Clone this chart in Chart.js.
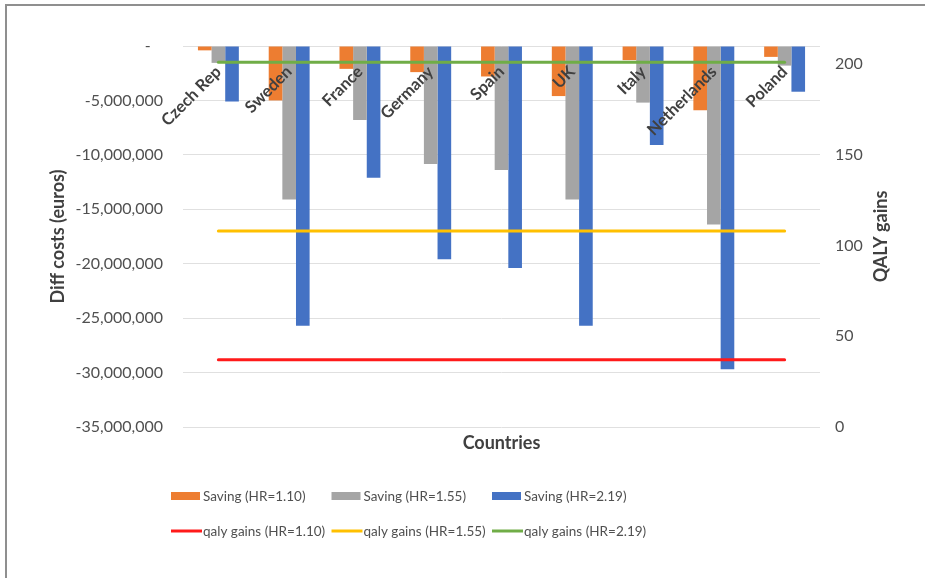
<!DOCTYPE html>
<html>
<head>
<meta charset="utf-8">
<script src="https://cdn.jsdelivr.net/npm/chart.js@4.4.1/dist/chart.umd.min.js"></script>
<style>
  html, body { margin: 0; padding: 0; background: #fff; }
  #wrap { position: relative; width: 925px; height: 578px; overflow: hidden; }
  #wrap canvas { position: absolute; left: 0; top: 0; }
  #frame { position: absolute; left: 5px; top: 4px; right: -10px; bottom: -10px;
           border-left: 2px solid #8f8f8f; border-top: 2px solid #8f8f8f; pointer-events: none; }
</style>
</head>
<body>
<div id="wrap">
  <canvas id="chart" width="925" height="578"></canvas>
  <div id="frame"></div>
</div>
<script>
// Countries on the category axis
const countries = ['Czech Rep', 'Sweden', 'France', 'Germany', 'Spain', 'UK', 'Italy', 'Netherlands', 'Poland'];

// Cost differences (euros) per country for each hazard ratio
const saving110 = [-400000, -5000000, -2100000, -2400000, -2800000, -4600000, -1300000, -5900000, -1000000];
const saving155 = [-1550000, -14100000, -6800000, -10850000, -11400000, -14100000, -5200000, -16400000, -1800000];
const saving219 = [-5100000, -25700000, -12100000, -19600000, -20400000, -25700000, -9100000, -29700000, -4200000];

// QALY gains per country for each hazard ratio
const qaly110 = [37, 37, 37, 37, 37, 37, 37, 37, 37];
const qaly155 = [108, 108, 108, 108, 108, 108, 108, 108, 108];
const qaly219 = [201, 201, 201, 201, 201, 201, 201, 201, 201];

// Axis ticks
const costTicks = [0, -5000000, -10000000, -15000000, -20000000, -25000000, -30000000, -35000000];
const qalyTicks = [0, 50, 100, 150, 200];

const FONT = 'Lato, "Open Sans", "DejaVu Sans", sans-serif';
const TEXT = '#505050';
const TITLE = '#404040';

// Country names written diagonally just under the zero line
const categoryLabels = {
  id: 'categoryLabels',
  afterDatasetsDraw(chart) {
    const { ctx } = chart;
    const xs = chart.scales.x, ys = chart.scales.y;
    const y0 = ys.getPixelForValue(0);
    ctx.save();
    ctx.font = 'bold 16.5px ' + FONT;
    ctx.fillStyle = TITLE;
    ctx.textAlign = 'right';
    ctx.textBaseline = 'middle';
    countries.forEach((name, i) => {
      const x = xs.getPixelForValue(i);
      ctx.save();
      ctx.translate(x, y0 + 23);
      ctx.rotate(-Math.PI / 4);
      ctx.fillText(name, 0, 0);
      ctx.restore();
    });
    ctx.restore();
  }
};

// Right-hand axis title, read bottom to top
const rightTitle = {
  id: 'rightTitle',
  afterDraw(chart) {
    const { ctx, chartArea } = chart;
    ctx.save();
    ctx.translate(chartArea.right + 61, (chartArea.top + chartArea.bottom) / 2);
    ctx.rotate(-Math.PI / 2);
    ctx.font = 'bold 18px ' + FONT;
    ctx.fillStyle = TITLE;
    ctx.textAlign = 'center';
    ctx.textBaseline = 'middle';
    ctx.fillText('QALY gains', 0, 0);
    ctx.restore();
  }
};

// Two-row legend laid out in three columns
const gridLegend = {
  id: 'gridLegend',
  afterDraw(chart) {
    const { ctx } = chart;
    const sets = chart.data.datasets;
    const colStart = 171, colStep = 160.5;
    const rowY = [496, 531];
    ctx.save();
    ctx.font = '13.5px ' + FONT;
    ctx.textBaseline = 'middle';
    ctx.textAlign = 'left';
    sets.forEach((ds, i) => {
      const row = ds.type === 'line' ? 1 : 0;
      const col = i % 3;
      const x = colStart + col * colStep;
      const y = rowY[row];
      if (row === 0) {
        ctx.fillStyle = ds.backgroundColor;
        ctx.fillRect(x, y - 4, 29, 8);
        ctx.fillStyle = TEXT;
        ctx.fillText(ds.label, x + 32, y + 1);
      } else {
        ctx.strokeStyle = ds.borderColor;
        ctx.lineWidth = 3;
        ctx.beginPath();
        ctx.moveTo(x, y);
        ctx.lineTo(x + 31, y);
        ctx.stroke();
        ctx.fillStyle = TEXT;
        ctx.fillText(ds.label, x + 32, y + 1);
      }
    });
    ctx.restore();
  }
};

const barSet = (label, data, color) => ({
  type: 'bar', label, data, yAxisID: 'y', order: 2,
  backgroundColor: color, borderWidth: 0,
  categoryPercentage: 0.578, barPercentage: 1.0
});
const lineSet = (label, data, color) => ({
  type: 'line', label, data, yAxisID: 'y2', order: 1,
  borderColor: color, backgroundColor: color, borderWidth: 3,
  pointRadius: 0, fill: false, tension: 0, borderCapStyle: 'round'
});

new Chart(document.getElementById('chart'), {
  type: 'bar',
  data: {
    labels: countries,
    datasets: [
      barSet('Saving (HR=1.10)', saving110, '#ED7D31'),
      barSet('Saving (HR=1.55)', saving155, '#A5A5A5'),
      barSet('Saving (HR=2.19)', saving219, '#4472C4'),
      lineSet('qaly gains (HR=1.10)', qaly110, '#FF1A1A'),
      lineSet('qaly gains (HR=1.55)', qaly155, '#FFC000'),
      lineSet('qaly gains (HR=2.19)', qaly219, '#70AD47')
    ]
  },
  options: {
    responsive: false,
    animation: false,
    devicePixelRatio: 1,
    layout: { padding: { left: 47, top: 46, right: 45, bottom: 124 } },
    plugins: { legend: { display: false }, tooltip: { enabled: false } },
    scales: {
      x: {
        offset: true,
        grid: { display: false },
        border: { display: false },
        ticks: { display: false },
        title: { display: true, text: 'Countries', color: TITLE,
                 font: { family: FONT, size: 18, weight: 'bold' }, padding: 0 },
        afterFit: s => { s.height = 27; }
      },
      y: {
        position: 'left',
        min: -35000000, max: 0,
        grid: { color: '#e0e0e0', drawTicks: false },
        border: { display: false },
        ticks: {
          padding: 20, color: TEXT, font: { family: FONT, size: 16 },
          callback: v => v === 0 ? '-   ' : Number(v).toLocaleString('en-US')
        },
        afterBuildTicks: s => { s.ticks = costTicks.map(v => ({ value: v })); },
        title: { display: true, text: 'Diff costs (euros)', color: TITLE,
                 font: { family: FONT, size: 18, weight: 'bold' }, padding: 0 },
        afterFit: s => { s.width = 136; }
      },
      y2: {
        position: 'right',
        min: 0, max: 210,
        grid: { display: false, drawTicks: false },
        border: { display: false },
        ticks: { padding: 15, color: TEXT, font: { family: FONT, size: 16 } },
        afterBuildTicks: s => { s.ticks = qalyTicks.map(v => ({ value: v })); },
        afterFit: s => { s.width = 60; }
      }
    }
  },
  plugins: [categoryLabels, rightTitle, gridLegend]
});
</script>
</body>
</html>
